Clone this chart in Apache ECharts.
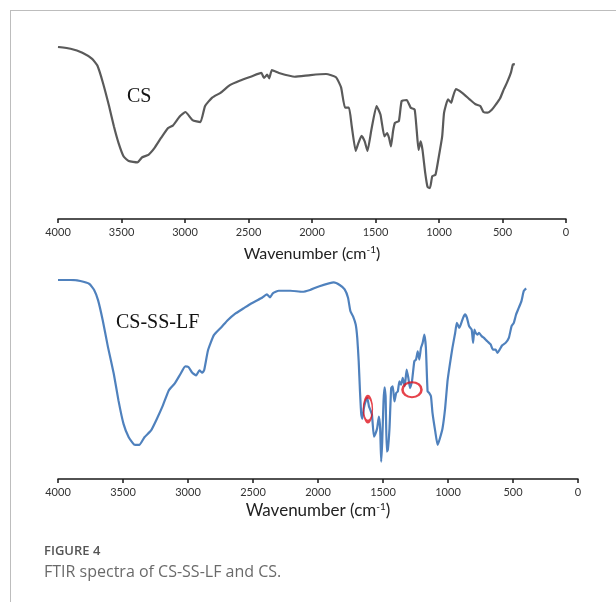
<!DOCTYPE html>
<html><head><meta charset="utf-8">
<script src="https://cdn.jsdelivr.net/npm/echarts@6/dist/echarts.min.js"></script>
<style>html,body{margin:0;padding:0;background:#fff;}#c{width:616px;height:602px;}</style>
</head><body><div id="c"></div>
<script>
// Wavenumber (cm-1) and transmittance (% of panel height)
const csWn = [4000,3901,3808,3731,3690,3647,3598,3560,3523,3483,3443,3375,3337,3288,3241,3189,3133,3096,3040,2997,2941,2879,2842,2786,2718,2647,2570,2477,2399,2378,2353,2337,2316,2260,2136,2012,1889,1811,1771,1740,1709,1687,1656,1635,1610,1585,1563,1532,1492,1461,1430,1409,1393,1378,1362,1347,1316,1294,1254,1223,1192,1176,1161,1145,1130,1108,1090,1071,1053,1028,1006,975,960,929,904,892,867,820,759,712,675,650,619,582,551,520,489,464,433,418,403];
const csT = [100,99.0,96.7,93.1,89.2,79.4,65.7,53.9,44.1,36.3,33.7,32.9,35.9,37.3,41.2,47.1,52.9,54.3,59.8,62.2,57.5,56.3,65.7,70.6,73.5,77.8,80.4,82.9,84.9,82.0,83.9,81.8,86.5,84.9,82.7,83.7,84.3,82.4,76.5,64.7,64.7,53.9,39.6,44.1,48.4,45.1,39.6,52.0,65.7,60.8,48.0,50.0,47.1,42.2,51.0,55.9,56.9,68.6,69.2,64.7,63.7,52.0,40.2,45.1,40.2,26.5,18.6,18.0,24.9,25.7,34.3,48.0,61.8,69.6,67.6,70.6,75.5,73.5,69.6,66.7,65.7,62.2,61.8,63.7,66.7,70.0,75.5,79.4,85.3,89.8,90.0];

const lfWn = [4000,3903,3828,3758,3722,3692,3656,3616,3571,3535,3496,3456,3414,3375,3335,3284,3239,3193,3148,3103,3057,3021,2997,2967,2937,2912,2891,2876,2846,2801,2740,2695,2634,2574,2514,2438,2393,2369,2348,2302,2212,2121,2061,2000,1879,
  1833,1795,1769,1751,1731,1710,1698,1687,1677,1667,1659,1647,1634,1621,1608,1598,1585,1570,1557,1545,1532,1522,1514,1506,1496,1488,1480,1471,1463,1450,1437,1425,1412,1399,1386,1374,1361,1348,1333,1318,1305,1292,1277,1259,1246,1233,1221,1208,1195,1182,1170,1157,1144,1131,1119,1098,1080,1062,1042,1022,1004,986,966,945,932,914,902,884,869,854,838,818,807,797,787,774,761,741,723,698,672,654,634,619,603,583,557,532,511,494,476,455,435,417,399];
const lfT = [100,100,99.5,98.0,95.0,89.9,79.8,66.4,52.9,39.5,27.7,21.0,17.3,17.1,21.0,24.4,30.3,37.0,44.5,47.9,52.9,56.6,56.3,53.4,52.1,54.6,53.4,54.6,64.7,72.3,76.5,79.8,83.2,85.7,88.2,90.8,92.8,91.3,93.3,94.6,94.6,94.1,95.0,96.6,98.8,
  97.5,95.3,91.1,84.4,81.8,77.6,70.9,59.2,44.0,32.3,30.3,35.6,39.0,40.7,36.5,34.8,32.3,21.3,23.0,25.5,31.4,25.5,8.7,18.8,39.0,46.1,41.5,13.8,14.6,25.5,45.7,46.6,39.0,43.2,44.0,49.1,47.4,50.8,46.6,55.0,50.8,45.7,49.1,59.2,60.0,64.2,60.0,65.9,68.4,72.6,65.9,44.0,43.2,41.5,33.1,23.9,17.1,20.5,25.5,35.6,49.1,57.5,65.9,73.4,78.5,76.0,77.6,81.0,82.7,81.0,76.8,75.1,68.4,75.1,73.4,72.6,73.4,71.8,70.9,69.2,67.6,65.0,65.0,63.4,65.0,67.2,68.4,70.9,76.8,78.5,82.7,86.1,89.4,94.5,95.8];

// highlighted bands (red ellipses) on the CS-SS-LF spectrum
const markWn = [1616, 1277];
const markT = [35.1, 44.9];

const axisName = 'Wavenumber (cm{sup|-1})';

const chart = echarts.init(document.getElementById('c'), null, {renderer: 'canvas'});
const zip = (a, b) => a.map((v, i) => [v, b[i]]);

function xAx(gridIndex, nameSize) {
  return {
    type: 'value', gridIndex, min: 0, max: 4000, interval: 500, inverse: true,
    axisLine: {show: true, lineStyle: {color: '#1a1a1a', width: 1.5}},
    axisTick: {show: true, length: 4, lineStyle: {color: '#1a1a1a', width: 1.5}},
    splitLine: {show: false},
    axisLabel: {color: '#333', fontSize: 11, fontFamily: 'Lato', margin: 8, formatter: v => String(v)},
    name: axisName, nameLocation: 'middle', nameGap: gridIndex === 0 ? 26 : 23,
    nameTextStyle: {color: '#222', fontSize: nameSize, fontFamily: 'Lato',
      rich: {sup: {fontSize: 10, fontFamily: 'Lato', color: '#222', verticalAlign: 'top', padding: [0, 0, 8, 0]}}}
  };
}

chart.setOption({
  animation: false,
  backgroundColor: '#fff',
  grid: [
    {left: 58, right: 50, top: 47, height: 172},
    {left: 58, right: 38, top: 280, height: 199}
  ],
  xAxis: [xAx(0, 16), xAx(1, 17)],
  yAxis: [
    {type: 'value', gridIndex: 0, min: 0, max: 100, show: false},
    {type: 'value', gridIndex: 1, min: 0, max: 100, show: false}
  ],
  series: [
    {type: 'line', xAxisIndex: 0, yAxisIndex: 0, data: zip(csWn, csT), showSymbol: false,
      lineStyle: {color: '#5a5a5a', width: 2.2}, smooth: 0.15},
    {type: 'line', xAxisIndex: 1, yAxisIndex: 1, data: zip(lfWn, lfT), showSymbol: false,
      lineStyle: {color: '#4f81bd', width: 2.2}, smooth: 0.15},
    {type: 'scatter', xAxisIndex: 1, yAxisIndex: 1, data: zip(markWn, markT),
      symbol: 'circle', symbolSize: (v, p) => p.dataIndex === 0 ? [9, 25] : [19, 15],
      itemStyle: {color: 'rgba(0,0,0,0)', borderColor: '#e0141e', borderWidth: 2.3}, z: 5}
  ],
  graphic: [
    {type: 'line', shape: {x1: 10, y1: 10.5, x2: 616, y2: 10.5}, style: {stroke: '#bdbdbd', lineWidth: 1}},
    {type: 'line', shape: {x1: 10.5, y1: 10, x2: 10.5, y2: 602}, style: {stroke: '#bdbdbd', lineWidth: 1}},
    {type: 'text', left: 127, top: 87, style: {text: 'CS', font: '20px "Liberation Serif"', fill: '#111'}},
    {type: 'text', left: 116, top: 313, style: {text: 'CS-SS-LF', font: '20px "Liberation Serif"', fill: '#111'}},
    {type: 'text', left: 44, top: 545, style: {text: 'FIGURE 4', font: '600 13px "Open Sans"', fill: '#555'}},
    {type: 'text', left: 44, top: 564, style: {text: 'FTIR spectra of CS-SS-LF and CS.', font: '16px "Open Sans"', fill: '#6a6a6a'}}
  ]
});
</script></body></html>
